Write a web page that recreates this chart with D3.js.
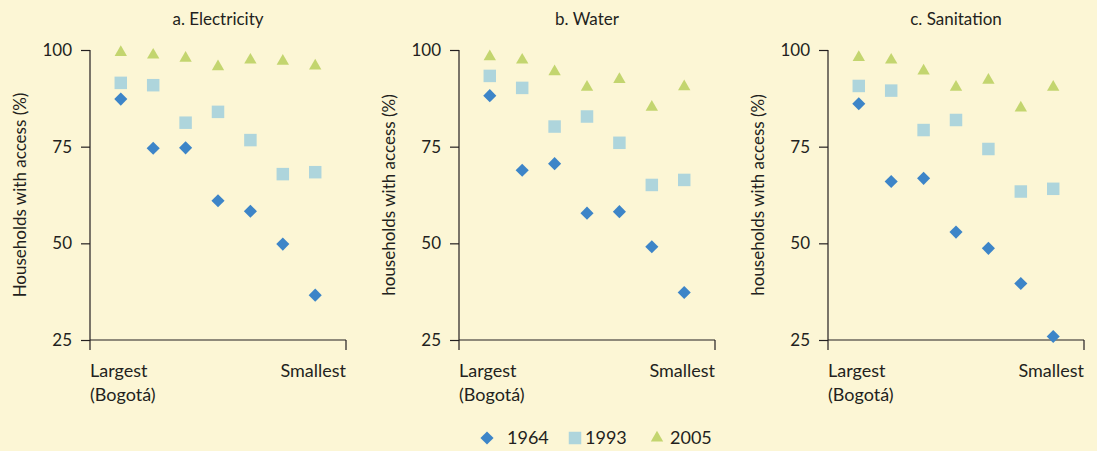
<!DOCTYPE html>
<html>
<head>
<meta charset="utf-8">
<script src="https://cdn.jsdelivr.net/npm/d3@7"></script>
<style>
  html, body { margin: 0; padding: 0; background: #fcf6d5; }
  svg { display: block; font-family: Lato, "Open Sans", sans-serif; }
</style>
</head>
<body>
<div id="main"></div>
<script>
const ctx = {
    w: 1097,
    h: 451,
    top: 50,
    bottom: 340,
    panelW: 256,
    panelX: [90, 459, 828],
    fs: 17
};

// data
const cityRank = [1, 2, 3, 4, 5, 6, 7];
const years = ["1964", "1993", "2005"];
const panelTitles = ["a. Electricity", "b. Water", "c. Sanitation"];
const yLabels = ["Households with access (%)", "households with access (%)", "households with access (%)"];
const yTicks = [25, 50, 75, 100];

const elec1964 = [87.3, 74.6, 74.7, 61.0, 58.3, 49.8, 36.6];
const elec1993 = [91.5, 90.9, 81.2, 84.0, 76.7, 67.9, 68.4];
const elec2005 = [99.4, 98.7, 97.9, 95.7, 97.4, 97.1, 95.9];

const water1964 = [88.2, 68.9, 70.6, 57.8, 58.2, 49.1, 37.3];
const water1993 = [93.3, 90.2, 80.2, 82.8, 76.0, 65.1, 66.4];
const water2005 = [98.3, 97.4, 94.4, 90.4, 92.4, 85.2, 90.5];

const sanit1964 = [86.1, 66.0, 66.8, 52.9, 48.7, 39.6, 25.9];
const sanit1993 = [90.7, 89.5, 79.3, 81.9, 74.4, 63.4, 64.1];
const sanit2005 = [98.1, 97.4, 94.6, 90.4, 92.2, 85.0, 90.4];

const panels = [
    [elec1964, elec1993, elec2005],
    [water1964, water1993, water2005],
    [sanit1964, sanit1993, sanit2005]
];

const colors = ["#3d85c8", "#aed5dc", "#c3d56f"];
const symbols = [
    d3.symbol().type(d3.symbolSquare).size(86),   // rotated -> diamond
    d3.symbol().type(d3.symbolSquare).size(156),
    d3.symbol().type(d3.symbolTriangle).size(66)
];
const rotations = [45, 0, 0];

function drawPanel(g, i) {
    let x = d3.scaleLinear().domain([0.05, 7.95]).range([0, ctx.panelW]);
    let y = d3.scaleLinear().domain([25, 100]).range([ctx.bottom, ctx.top]);

    // title
    g.append("text")
        .attr("x", ctx.panelW / 2)
        .attr("y", 25)
        .attr("text-anchor", "middle")
        .attr("font-size", ctx.fs)
        .attr("fill", "#231f20")
        .text(panelTitles[i]);

    // y axis ticks
    let yAxis = d3.axisLeft(y).tickValues(yTicks).tickSize(9).tickPadding(9);
    let yG = g.append("g").call(yAxis);
    yG.select(".domain").remove();
    yG.selectAll("line").attr("stroke", "#231f20").attr("stroke-width", 1.2);
    yG.selectAll("text")
        .attr("font-size", ctx.fs)
        .attr("font-family", "Lato, sans-serif")
        .attr("fill", "#231f20");

    // axis lines
    g.append("line")
        .attr("x1", 0).attr("x2", 0)
        .attr("y1", y(100)).attr("y2", y(25) + 10)
        .attr("stroke", "#231f20").attr("stroke-width", 1.2);
    g.append("line")
        .attr("x1", 0).attr("x2", ctx.panelW)
        .attr("y1", y(25)).attr("y2", y(25))
        .attr("stroke", "#231f20").attr("stroke-width", 1.2);
    g.append("line")
        .attr("x1", ctx.panelW).attr("x2", ctx.panelW)
        .attr("y1", y(25)).attr("y2", y(25) + 10)
        .attr("stroke", "#231f20").attr("stroke-width", 1.2);

    // x labels
    let xl = g.append("text")
        .attr("x", 0)
        .attr("y", 377)
        .attr("font-size", 18)
        .attr("fill", "#231f20");
    xl.append("tspan").attr("x", 0).text("Largest");
    xl.append("tspan").attr("x", 0).attr("dy", 24).text("(Bogotá)");
    g.append("text")
        .attr("x", ctx.panelW)
        .attr("y", 377)
        .attr("text-anchor", "end")
        .attr("font-size", 18)
        .attr("fill", "#231f20")
        .text("Smallest");

    // y label
    g.append("text")
        .attr("transform", "translate(-64," + ((ctx.top + ctx.bottom) / 2) + ") rotate(-90)")
        .attr("text-anchor", "middle")
        .attr("font-size", ctx.fs)
        .attr("fill", "#231f20")
        .text(yLabels[i]);

    // points
    for (let s = 0; s < 3; s++) {
        g.selectAll(".pt" + s)
            .data(panels[i][s])
            .enter()
            .append("path")
                .attr("class", "pt" + s)
                .attr("d", symbols[s])
                .attr("fill", colors[s])
                .attr("transform", (d, k) => "translate(" + x(cityRank[k]) + "," + y(d) + ") rotate(" + rotations[s] + ")");
    }
}

function drawLegend(svg) {
    let lg = svg.append("g").attr("transform", "translate(0,438)");
    let itemX = [487, 575, 657];
    let textX = [507, 585, 670];
    for (let s = 0; s < 3; s++) {
        lg.append("path")
            .attr("d", symbols[s])
            .attr("fill", colors[s])
            .attr("transform", "translate(" + itemX[s] + ",0) rotate(" + rotations[s] + ")");
        lg.append("text")
            .attr("x", textX[s])
            .attr("y", 6)
            .attr("font-size", 18)
            .attr("fill", "#231f20")
            .text(years[s]);
    }
}

function createViz() {
    let svg = d3.select("#main").append("svg")
        .attr("width", ctx.w)
        .attr("height", ctx.h);
    svg.append("rect").attr("width", ctx.w).attr("height", ctx.h).attr("fill", "#fcf6d5");
    for (let i = 0; i < 3; i++) {
        let g = svg.append("g").attr("transform", "translate(" + ctx.panelX[i] + ",0)");
        drawPanel(g, i);
    }
    drawLegend(svg);
}

createViz();
</script>
</body>
</html>
